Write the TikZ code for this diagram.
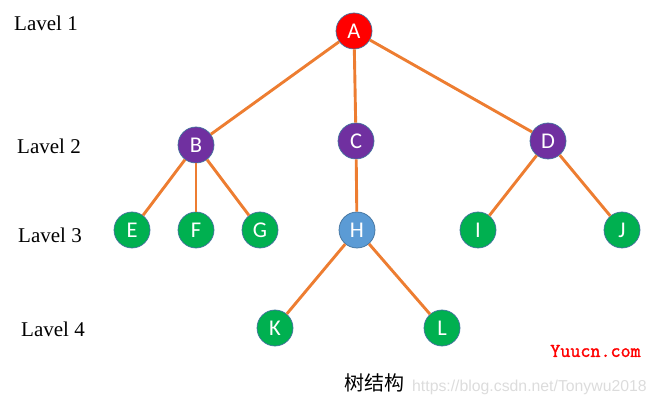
\documentclass[tikz,border=0pt]{standalone}
\usepackage{fontspec}
\setmainfont{Liberation Serif}
\newfontfamily\nodefont{Carlito}
\newfontfamily\cjkfont{Noto Sans CJK SC}
\newfontfamily\wmfont{Liberation Sans}
\newfontfamily\yufont[FakeBold=1.6]{Latin Modern Mono}
\definecolor{redA}{HTML}{FF0000}
\definecolor{purp}{HTML}{7030A0}
\definecolor{grn}{HTML}{00B050}
\definecolor{blu}{HTML}{5B9BD5}
\definecolor{edgeor}{HTML}{ED7D31}
\definecolor{rim}{HTML}{41719C}
\definecolor{wmgray}{HTML}{DCDCDC}
\tikzset{
  tnode/.style={circle, draw=rim, line width=0.7pt, minimum size=36pt, inner sep=0pt,
    text=white, font=\nodefont\fontsize{22.5}{22.5}\selectfont},
  rednode/.style={tnode, fill=redA},
  purnode/.style={tnode, fill=purp},
  grnnode/.style={tnode, fill=grn},
  blunode/.style={tnode, fill=blu},
  link/.style={draw=edgeor, line width=2.9pt},
  lvl/.style={anchor=base west, inner sep=0pt, font=\fontsize{21}{21}\selectfont}
}
\begin{document}
\begin{tikzpicture}[x=1pt,y=-1pt]
\useasboundingbox (0,0) rectangle (659,406);
\node[rednode] (A) at (354,31) {A};
\node[purnode] (B) at (196,145) {B};
\node[purnode] (C) at (356,141) {C};
\node[purnode] (D) at (548,141) {D};
\node[grnnode] (E) at (132,230) {E};
\node[grnnode] (F) at (196,230) {F};
\node[grnnode] (G) at (260,230) {G};
\node[blunode] (H) at (357,230) {H};
\node[grnnode] (I) at (478,230) {I};
\node[grnnode] (J) at (622,230) {J};
\node[grnnode] (K) at (275,328) {K};
\node[grnnode] (L) at (442,328) {L};
\draw[link] (A) -- (B);
\draw[link] (A) -- (C);
\draw[link] (A) -- (D);
\draw[link] (B) -- (E);
\draw[link] (B) -- (F);
\draw[link] (B) -- (G);
\draw[link] (C) -- (H);
\draw[link] (D) -- (I);
\draw[link] (D) -- (J);
\draw[link] (H) -- (K);
\draw[link] (H) -- (L);
\node[lvl] (l1) at (14,31) {Lavel 1};
\node[lvl] (l2) at (17,154) {Lavel 2};
\node[lvl] (l3) at (18,243) {Lavel 3};
\node[lvl] (l4) at (21,337) {Lavel 4};
\node[inner sep=0pt, font=\cjkfont\fontsize{20}{20}\selectfont] (cap) at (374,383) {树结构};
\node[anchor=west, inner sep=0pt, text=wmgray, font=\wmfont\fontsize{15.8}{16}\selectfont] (wm) at (412,387) {https://blog.csdn.net/Tonywu2018};
\node[inner sep=0pt, text=red, font=\yufont\fontsize{19.5}{19.5}\selectfont] (yu) at (595.5,351) {Yuucn.com};
\end{tikzpicture}
\end{document}
